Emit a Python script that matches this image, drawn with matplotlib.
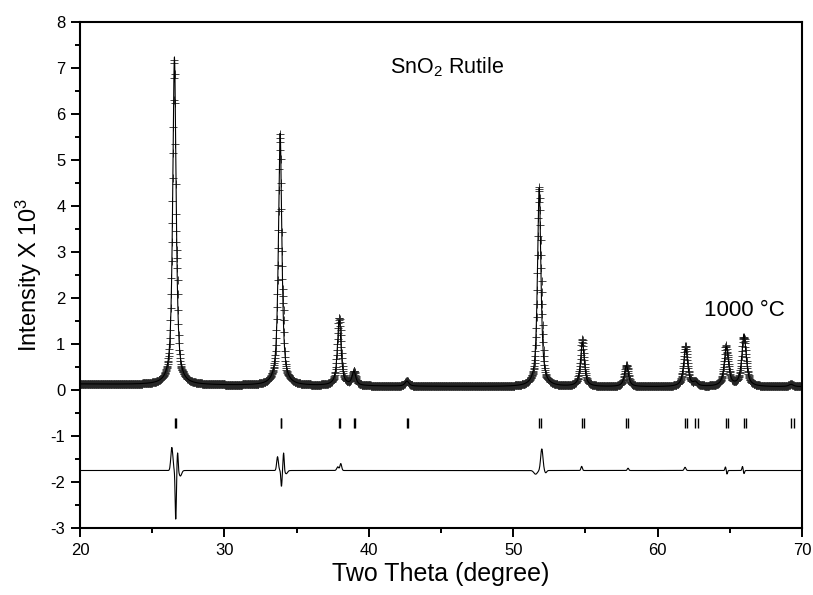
import numpy as np
import matplotlib
matplotlib.use("Agg")
import matplotlib.pyplot as plt
from matplotlib.ticker import MultipleLocator

plt.rcParams["font.family"] = ["Liberation Sans", "DejaVu Sans"]
plt.rcParams["mathtext.default"] = "regular"
plt.rcParams["axes.unicode_minus"] = False

# Refined reflections (Cu K-alpha1): position (deg), height above background, FWHM (deg)
peak_pos = [26.54, 33.86, 37.95, 38.97, 42.64, 51.80, 54.79, 57.84, 61.94, 62.62, 64.76, 65.98, 69.24]
peak_height = [7.12, 5.48, 1.42, 0.30, 0.11, 4.32, 0.96, 0.46, 0.83, 0.08, 0.86, 1.12, 0.05]
peak_fwhm = [0.28, 0.28, 0.30, 0.30, 0.32, 0.28, 0.31, 0.32, 0.34, 0.34, 0.35, 0.36, 0.38]

# Background polynomial coefficients in (2theta - 20)
bg_coef = [0.13, -0.00295, 3.5e-5]

# Misfit features seen in the difference curve: position, amplitude, width
misfit_pos = [26.36, 26.63, 26.76, 26.95, 33.68, 33.95, 34.10, 34.28,
              37.85, 38.06, 51.55, 51.98, 52.25, 54.74, 57.95, 61.90, 64.70, 64.80, 65.88, 65.98]
misfit_amp = [0.50, -1.09, 0.40, -0.12, 0.30, -0.35, 0.39, -0.07,
              0.08, 0.15, -0.08, 0.47, -0.05, 0.09, 0.05, 0.07, 0.08, -0.08, 0.09, -0.07]
misfit_w = [0.07, 0.04, 0.04, 0.09, 0.06, 0.04, 0.04, 0.09,
            0.07, 0.06, 0.12, 0.08, 0.07, 0.05, 0.05, 0.06, 0.04, 0.04, 0.04, 0.04]

# Bragg positions, K-alpha1 and K-alpha2
bragg_ka1 = [26.58, 33.89, 37.94, 38.97, 42.62, 51.78, 54.76, 57.82, 61.88, 62.60, 64.72, 65.95, 69.22]
bragg_ka2 = [26.62, 33.93, 37.99, 39.02, 42.72, 51.91, 54.91, 57.98, 62.05, 62.77, 64.90, 66.13, 69.42]

diff_offset = -1.75
two_theta = np.arange(20.0, 70.0001, 0.02)


def pseudo_voigt(x, pos, h, w, eta=0.8):
    u = 2 * (x - pos) / w
    return h * (eta / (1 + u ** 2) + (1 - eta) * np.exp(-np.log(2) * u ** 2))


t = two_theta - 20
calc = bg_coef[0] + bg_coef[1] * t + bg_coef[2] * t ** 2
for p, h, w in zip(peak_pos, peak_height, peak_fwhm):
    calc += pseudo_voigt(two_theta, p, h, w)

misfit = np.zeros_like(two_theta)
for p, a, w in zip(misfit_pos, misfit_amp, misfit_w):
    misfit += a * np.exp(-0.5 * ((two_theta - p) / w) ** 2)

obs = calc + misfit

fig = plt.figure(figsize=(8.13, 5.95), dpi=100)
ax = fig.add_axes([0.0984, 0.1126, 0.8881, 0.8504])

ax.plot(two_theta, obs, linestyle="none", marker="+", ms=6, mew=0.6, color="0.15")
ax.plot(two_theta, calc, color="k", lw=0.8)
ax.vlines(bragg_ka1, -0.83, -0.61, color="k", lw=1)
ax.vlines(bragg_ka2, -0.83, -0.61, color="k", lw=1)
ax.plot(two_theta, misfit + diff_offset, color="k", lw=0.8)

ax.set_xlim(20, 70)
ax.set_ylim(-3, 8)
ax.xaxis.set_major_locator(MultipleLocator(10))
ax.xaxis.set_minor_locator(MultipleLocator(5))
ax.yaxis.set_major_locator(MultipleLocator(1))
ax.yaxis.set_minor_locator(MultipleLocator(0.5))
ax.tick_params(which="both", direction="out", width=1.4, labelsize=12, top=False, right=False)
ax.tick_params(which="major", length=6.5, pad=4)
ax.tick_params(which="minor", length=3.6)
for s in ax.spines.values():
    s.set_linewidth(1.5)

ax.set_xlabel("Two Theta (degree)", fontsize=18, labelpad=3)
ax.set_ylabel("Intensity X 10$^3$", fontsize=17, labelpad=5)

ax.text(41.5, 6.89, "SnO$_2$ Rutile", fontsize=15.5)
ax.text(63.2, 1.61, "1000 \u00b0C", fontsize=16)

fig.savefig("out.png", dpi=100)
